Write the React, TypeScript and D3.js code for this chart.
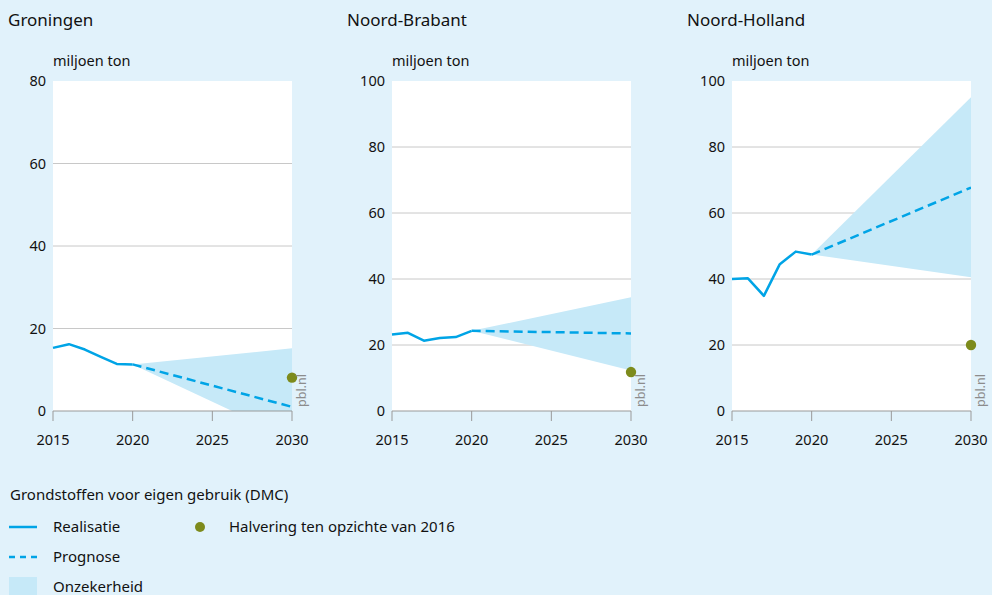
import React from "react";
import * as d3 from "d3";

const realYears = [2015, 2016, 2017, 2018, 2019, 2020];
const forecastYears = [2020, 2030];
const xTicks = [2015, 2020, 2025, 2030];

const regions = ["Groningen", "Noord-Brabant", "Noord-Holland"];
const yMax = [80, 100, 100];

const groningenReal = [15.3, 16.2, 14.9, 13.1, 11.4, 11.3];
const brabantReal = [23.2, 23.7, 21.3, 22.1, 22.4, 24.3];
const hollandReal = [40.0, 40.2, 34.9, 44.5, 48.3, 47.4];

const groningenPrognose = [11.3, 1.0];
const brabantPrognose = [24.3, 23.5];
const hollandPrognose = [47.4, 67.7];

const groningenLow = [11.3, -6.8];
const groningenHigh = [11.3, 15.2];
const brabantLow = [24.3, 12.3];
const brabantHigh = [24.3, 34.5];
const hollandLow = [47.4, 40.5];
const hollandHigh = [47.4, 95.1];

const halving = [8.1, 11.8, 20.0];

const realData = [groningenReal, brabantReal, hollandReal];
const prognoseData = [groningenPrognose, brabantPrognose, hollandPrognose];
const lowData = [groningenLow, brabantLow, hollandLow];
const highData = [groningenHigh, brabantHigh, hollandHigh];

const BG = "#e1f2fb";
const BLUE = "#00a4e6";
const BAND = "#c6e9f8";
const OLIVE = "#7d8b1c";
const FONT = "'Noto Sans', 'Open Sans', sans-serif";

const panelLeft = [53, 392, 732];
const panelWidth = 239;
const top = 81;
const bottom = 411;

function Panel({ i }: { i: number }) {
  const left = panelLeft[i];
  const x = d3.scaleLinear().domain([2015, 2030]).range([left, left + panelWidth]);
  const y = d3.scaleLinear().domain([0, yMax[i]]).range([bottom, top]);
  const yTicks = d3.range(0, yMax[i] + 1, 20);

  const line = d3
    .line<[number, number]>()
    .x((d) => x(d[0]))
    .y((d) => y(d[1]));
  const area = d3
    .area<number>()
    .x((_, k) => x(forecastYears[k]))
    .y0((_, k) => y(lowData[i][k]))
    .y1((_, k) => y(highData[i][k]));

  const real = realYears.map((yr, k) => [yr, realData[i][k]] as [number, number]);
  const prog = forecastYears.map((yr, k) => [yr, prognoseData[i][k]] as [number, number]);
  const clipId = "clip" + i;

  return (
    <g>
      <text x={left - 45} y={26} fontSize={17} fill="#111">
        {regions[i]}
      </text>
      <text x={left} y={66} fontSize={14.5} fill="#111">
        miljoen ton
      </text>
      <rect x={left} y={top} width={panelWidth} height={bottom - top} fill="#fff" />
      <clipPath id={clipId}>
        <rect x={left} y={top} width={panelWidth} height={bottom - top} />
      </clipPath>
      {yTicks.map((t) => (
        <g key={t}>
          {t > 0 && t < yMax[i] && (
            <line x1={left} x2={left + panelWidth} y1={y(t)} y2={y(t)} stroke="#c8c8c8" strokeWidth={1} />
          )}
          <text x={left - 7} y={y(t) + 5} textAnchor="end" fontSize={14.5} fill="#111">
            {t}
          </text>
        </g>
      ))}
      <path d={area(lowData[i]) || ""} fill={BAND} clipPath={`url(#${clipId})`} />
      <line x1={left} x2={left + panelWidth} y1={bottom} y2={bottom} stroke="#999" strokeWidth={1} />
      {xTicks.map((t) => (
        <g key={t}>
          <line x1={x(t)} x2={x(t)} y1={bottom} y2={bottom + 10} stroke="#999" strokeWidth={1} />
          <text x={x(t)} y={445} textAnchor="middle" fontSize={14.5} fill="#111">
            {t}
          </text>
        </g>
      ))}
      <path d={line(real) || ""} fill="none" stroke={BLUE} strokeWidth={2.5} strokeLinejoin="round" />
      <path
        d={line(prog) || ""}
        fill="none"
        stroke={BLUE}
        strokeWidth={2.5}
        strokeDasharray="9,5"
        clipPath={`url(#${clipId})`}
      />
      <circle cx={x(2030)} cy={y(halving[i])} r={5.2} fill={OLIVE} />
      <text
        transform={`translate(${left + panelWidth + 14},${bottom - 4}) rotate(-90)`}
        fontSize={12.5}
        fill="#8c8c8c"
      >
        pbl.nl
      </text>
    </g>
  );
}

export default function App() {
  return (
    <svg
      width={992}
      height={595}
      style={{ position: "absolute", left: 0, top: 0, background: BG, fontFamily: FONT }}
    >
      <rect width={992} height={595} fill={BG} />
      {regions.map((_, i) => (
        <Panel key={i} i={i} />
      ))}
      <g fontSize={15} fill="#111">
        <text x={10} y={500}>Grondstoffen voor eigen gebruik (DMC)</text>
        <line x1={9} x2={37} y1={527} y2={527} stroke={BLUE} strokeWidth={2.5} />
        <text x={53} y={532}>Realisatie</text>
        <line x1={9} x2={37} y1={557} y2={557} stroke={BLUE} strokeWidth={2.5} strokeDasharray="6,5" />
        <text x={53} y={562}>Prognose</text>
        <rect x={9} y={577} width={28} height={18} fill={BAND} />
        <text x={53} y={592}>Onzekerheid</text>
        <circle cx={200} cy={527} r={5} fill={OLIVE} />
        <text x={229} y={532}>Halvering ten opzichte van 2016</text>
      </g>
    </svg>
  );
}
